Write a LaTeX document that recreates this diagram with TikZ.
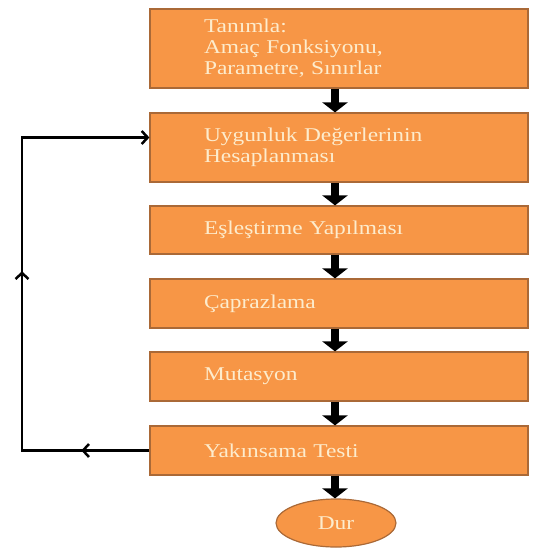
\documentclass[tikz,border=0pt]{standalone}
\usepackage{fontspec}
\setmainfont{Liberation Serif}[FakeStretch=1.2]
\usetikzlibrary{arrows.meta,shapes.geometric,decorations.markings}
\definecolor{boxfill}{RGB}{247,150,70}
\definecolor{boxline}{RGB}{170,105,55}
\definecolor{boxtext}{RGB}{253,236,205}
\begin{document}
\begin{tikzpicture}[x=1pt,y=-1pt,
		stepbox/.style={draw=boxline,line width=1.2pt,fill=boxfill,text=boxtext,
			minimum width=378pt,inner xsep=54pt,text width=270pt,align=left,
			font=\fontsize{19.5}{21}\selectfont},
		endbox/.style={ellipse,draw=boxline,line width=1.2pt,fill=boxfill,text=boxtext,
			minimum width=120pt,minimum height=48pt,inner sep=0pt,
			font=\fontsize{19.5}{21}\selectfont},
		flow/.style={line width=8pt,-{Triangle[length=10pt,width=25pt]}},
		back/.style={line width=2.5pt,-{Straight Barb[length=6pt,width=13pt]},
			postaction={decorate},
			decoration={markings,
				mark=at position 0.12 with {\arrow{Straight Barb[length=6pt,width=13pt]}},
				mark=at position 0.54 with {\arrow{Straight Barb[length=6pt,width=13pt]}}}}]
	\useasboundingbox (0,0) rectangle (535,549);
	\node[stepbox,minimum height=79pt] (b1) at (339,48.5) {Tanımla:\\Amaç Fonksiyonu,\\Parametre, Sınırlar};
	\node[stepbox,minimum height=69pt] (b2) at (339,147.5) {Uygunluk Değerlerinin\\Hesaplanması};
	\node[stepbox,minimum height=48pt] (b3) at (339,230) {Eşleştirme Yapılması};
	\node[stepbox,minimum height=49pt] (b4) at (339,303.5) {Çaprazlama};
	\node[stepbox,minimum height=49pt] (b5) at (339,376.5) {Mutasyon};
	\node[stepbox,minimum height=49pt] (b6) at (339,450.5) {Yakınsama Testi};
	\node[endbox] (dur) at (336,523) {Dur};
	\foreach \a/\b in {b1/b2,b2/b3,b3/b4,b4/b5,b5/b6,b6/dur} {
			\draw[flow] ([xshift=-4pt]\a.south) -- ([xshift=-4pt]\a.south |- \b.north);
		}
	\coordinate (ret) at (22,137.5);
	\draw[back] (b6.west) -| (ret) -- ([yshift=10pt]b2.west);
\end{tikzpicture}
\end{document}
